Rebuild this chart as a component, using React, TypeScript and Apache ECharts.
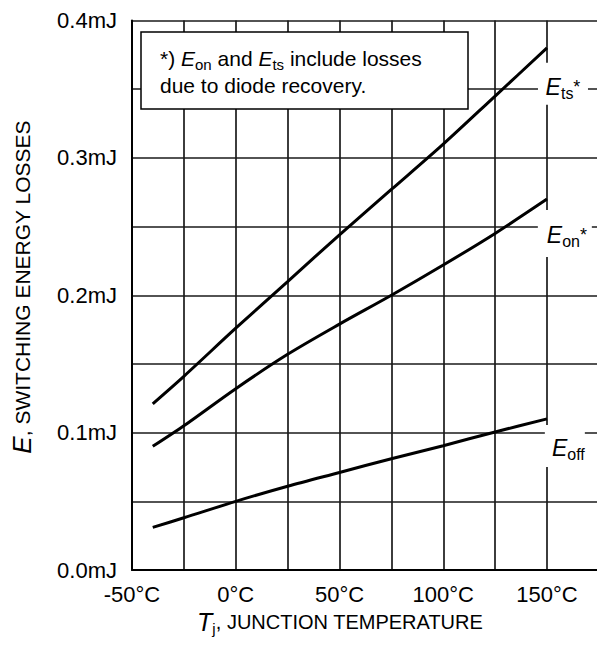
import React, { useEffect, useRef } from "react";
import * as echarts from "echarts";

// Junction temperature (°C) sample points
const temps = [-40, -25, 0, 25, 50, 75, 100, 125, 150];
// Switching energy losses (mJ)
const eTs = [0.121, 0.141, 0.176, 0.21, 0.244, 0.277, 0.31, 0.345, 0.38];
const eOn = [0.09, 0.105, 0.132, 0.157, 0.179, 0.2, 0.222, 0.245, 0.27];
const eOff = [0.031, 0.038, 0.05, 0.061, 0.071, 0.081, 0.0905, 0.1005, 0.11];
// Tick labels
const xTickLabels = [-50, 0, 50, 100, 150];
const yTickLabels = [0, 0.1, 0.2, 0.3, 0.4];
// Curve labels
const curveNames = ["ts", "on", "off"];
const curveStars = ["*", "*", ""];

const FONT = "Liberation Sans, Arial, sans-serif";

export default function App() {
  const ref = useRef<HTMLDivElement>(null);

  useEffect(() => {
    if (!ref.current) return;
    const chart = echarts.init(ref.current, null, { renderer: "svg" });

    const labelRich = {
      e: { fontFamily: FONT, fontStyle: "italic", fontSize: 23, lineHeight: 30, color: "#000" },
      sub: { fontFamily: FONT, fontSize: 16, lineHeight: 9, verticalAlign: "bottom", color: "#000" },
      st: { fontFamily: FONT, fontSize: 18, lineHeight: 30, color: "#000" },
    };

    const labelBoxes = [
      { coord: [157.7, 0.354], size: [50, 42], offset: [0, 3] },
      { coord: [158.6, 0.245], size: [54, 47], offset: [2, 1.5] },
      { coord: [158.6, 0.0903], size: [40, 42], offset: [3.5, 2] },
    ];

    const mkSeries = (vals: number[], idx: number) => {
      const box = labelBoxes[idx];
      const star = curveStars[idx] ? `{st|${curveStars[idx]}}` : "";
      return {
        type: "line",
        name: "E" + curveNames[idx],
        data: temps.map((t, i) => [t, vals[i]]),
        showSymbol: false,
        symbol: "none",
        smooth: 0.3,
        lineStyle: { color: "#000", width: 3 },
        z: 3,
        markPoint: {
          symbol: "rect",
          symbolSize: box.size,
          itemStyle: { color: "#fff" },
          label: {
            show: true,
            position: "inside",
            offset: box.offset,
            formatter: `{e|E}{sub|${curveNames[idx]}}${star}`,
            rich: labelRich,
          },
          data: [{ coord: box.coord }],
        },
      };
    };

    const noteRich = {
      n: { fontFamily: FONT, fontSize: 21, lineHeight: 27, color: "#000" },
      i: { fontFamily: FONT, fontSize: 21, fontStyle: "italic", lineHeight: 27, color: "#000" },
      s: { fontFamily: FONT, fontSize: 15, lineHeight: 19, verticalAlign: "bottom", color: "#000" },
    };

    chart.setOption({
      animation: false,
      backgroundColor: "#fff",
      grid: { left: 132, top: 20.5, right: 10.75, bottom: 86, containLabel: false },
      xAxis: {
        type: "value",
        min: -50,
        max: 180,
        interval: 25,
        axisLine: { show: true, onZero: false, lineStyle: { color: "#000", width: 2 } },
        axisTick: { show: false },
        splitLine: { show: true, lineStyle: { color: "#1a1a1a", width: 1.7 } },
        axisLabel: {
          margin: 13,
          fontFamily: FONT,
          fontSize: 22,
          color: "#000",
          formatter: (v: number) => (xTickLabels.includes(v) ? `${v}°C` : ""),
        },
      },
      yAxis: {
        type: "value",
        min: 0,
        max: 0.4,
        interval: 0.05,
        axisLine: { show: true, onZero: false, lineStyle: { color: "#000", width: 2 } },
        axisTick: { show: false },
        splitLine: { show: true, lineStyle: { color: "#1a1a1a", width: 1.7 } },
        axisLabel: {
          margin: 15,
          fontFamily: FONT,
          fontSize: 22,
          color: "#000",
          formatter: (v: number) => {
            const m = yTickLabels.find((t) => Math.abs(t - v) < 1e-6);
            return m !== undefined ? `${m.toFixed(1)}mJ` : "";
          },
        },
      },
      series: [mkSeries(eTs, 0), mkSeries(eOn, 1), mkSeries(eOff, 2)],
      graphic: {
        elements: [
          {
            type: "rect",
            z: 50,
            shape: { x: 141, y: 32, width: 327, height: 77 },
            style: { fill: "#fff", stroke: "#000", lineWidth: 1.5 },
          },
          {
            type: "text",
            z: 51,
            x: 160,
            y: 44.5,
            style: {
              text: "{n|*) }{i|E}{s|on}{n| and }{i|E}{s|ts}{n| include losses}\n{n|due to diode recovery.}",
              rich: noteRich,
              verticalAlign: "top",
              align: "left",
            },
          },
          {
            type: "text",
            z: 51,
            x: 22,
            y: 287,
            rotation: Math.PI / 2,
            style: {
              text: "{i|E}{n|, SWITCHING ENERGY LOSSES}",
              align: "center",
              verticalAlign: "middle",
              rich: {
                i: { fontFamily: FONT, fontSize: 26, fontStyle: "italic", color: "#000", lineHeight: 30 },
                n: { fontFamily: FONT, fontSize: 21, color: "#000", lineHeight: 30 },
              },
            },
          },
          {
            type: "text",
            z: 51,
            x: 340,
            y: 622,
            style: {
              text: "{i|T}{s|j}{n|, JUNCTION TEMPERATURE}",
              align: "center",
              verticalAlign: "middle",
              rich: {
                i: { fontFamily: FONT, fontSize: 25, fontStyle: "italic", color: "#000", lineHeight: 28 },
                s: { fontFamily: FONT, fontSize: 15, color: "#000", lineHeight: 16, verticalAlign: "bottom" },
                n: { fontFamily: FONT, fontSize: 20, color: "#000", lineHeight: 28 },
              },
            },
          },
        ],
      },
    });

    return () => chart.dispose();
  }, []);

  return (
    <div style={{ position: "fixed", left: 0, top: 0, width: 597, height: 656, overflow: "hidden", background: "#fff" }}>
      <div ref={ref} style={{ width: 620, height: 656 }} />
    </div>
  );
}
